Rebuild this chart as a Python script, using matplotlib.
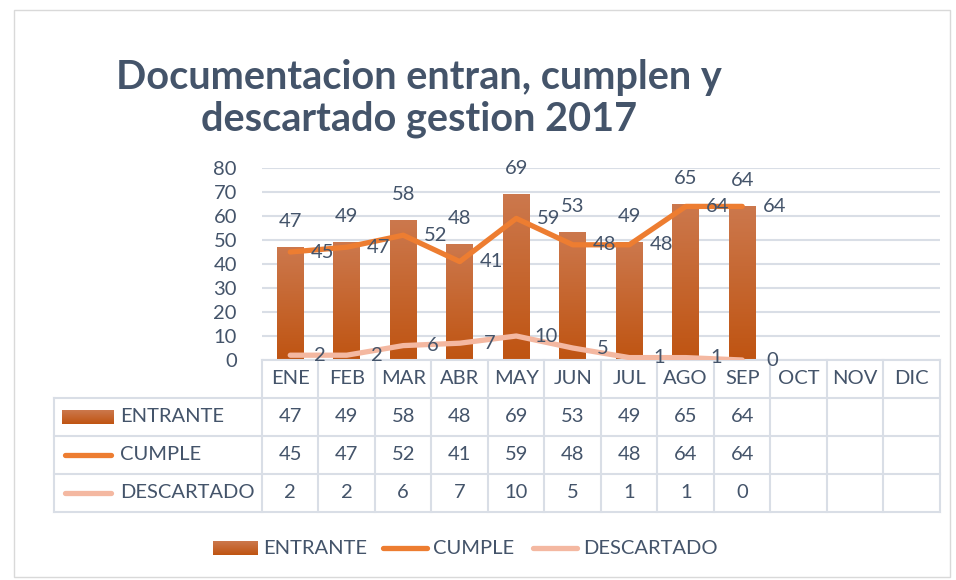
import numpy as np
import matplotlib.pyplot as plt
from matplotlib.patches import Rectangle

meses = ['ENE', 'FEB', 'MAR', 'ABR', 'MAY', 'JUN', 'JUL', 'AGO', 'SEP', 'OCT', 'NOV', 'DIC']
entrante = [47, 49, 58, 48, 69, 53, 49, 65, 64]
cumple = [45, 47, 52, 41, 59, 48, 48, 64, 64]
descartado = [2, 2, 6, 7, 10, 5, 1, 1, 0]
series = ['ENTRANTE', 'CUMPLE', 'DESCARTADO']
titulo = 'Documentacion entran, cumplen y\ndescartado gestion 2017'

W, H = 956, 580
texto = '#44546A'
borde = '#D9DEE6'
c_cumple = '#ED7D31'
c_desc = '#F4B8A1'
bar_top = np.array([0.80, 0.47, 0.30])
bar_bot = np.array([0.75, 0.33, 0.07])
fs = 14.5

plt.rcParams['font.family'] = ['Lato', 'DejaVu Sans']

fig = plt.figure(figsize=(W / 100, H / 100), dpi=100)

# layout (pixels)
x0, x1 = 262, 940
y0, y1 = 360, 168
colw = (x1 - x0) / len(meses)
rowh = 38
tab_left = 54

ov = fig.add_axes([0, 0, 1, 1])
ov.set_xlim(0, W)
ov.set_ylim(H, 0)
ov.axis('off')

ax = fig.add_axes([x0 / W, 1 - y0 / H, (x1 - x0) / W, (y0 - y1) / H])
ax.patch.set_visible(False)

grad = np.linspace(0, 1, 64)[:, None, None]
img = bar_top * (1 - grad) + bar_bot * grad

# bars with gradient
w = 0.47
for i, v in enumerate(entrante):
    ax.imshow(img, extent=[i - w / 2, i + w / 2, 0, v], aspect='auto', origin='upper', zorder=2)
    ax.annotate(str(v), (i, v), xytext=(0, 26), textcoords='offset pixels',
                ha='center', va='center', fontsize=fs, color=texto)

x = np.arange(len(cumple))
ax.plot(x, cumple, color=c_cumple, lw=3.8, solid_capstyle='round', solid_joinstyle='round', zorder=3)
ax.plot(x, descartado, color=c_desc, lw=3.8, solid_capstyle='round', solid_joinstyle='round', zorder=3)
for i in x:
    ax.annotate(str(cumple[i]), (i, cumple[i]), xytext=(32, 0), textcoords='offset pixels',
                ha='center', va='center', fontsize=fs, color=texto, zorder=4)
    ax.annotate(str(descartado[i]), (i, descartado[i]), xytext=(30, 0), textcoords='offset pixels',
                ha='center', va='center', fontsize=fs, color=texto, zorder=4)

ax.set_xlim(-0.5, len(meses) - 0.5)
ax.set_ylim(0, 80)
ax.set_yticks(range(0, 81, 10))
ax.set_xticks([])
ax.tick_params(axis='y', length=0, pad=18, labelsize=fs, labelcolor=texto)
for s in ['top', 'right', 'left']:
    ax.spines[s].set_visible(False)
ax.spines['bottom'].set_color(borde)
ax.spines['bottom'].set_linewidth(1.5)
ax.yaxis.grid(True, color=borde, lw=1.5)
ax.set_axisbelow(True)

# data table
ty = [y0 + rowh * k for k in range(5)]
for k in range(len(meses) + 1):
    ov.plot([x0 + k * colw] * 2, [y0, ty[4]], color=borde, lw=1.5)
ov.plot([tab_left] * 2, [ty[1], ty[4]], color=borde, lw=1.5)
for k in range(1, 5):
    ov.plot([tab_left, x1], [ty[k]] * 2, color=borde, lw=1.5)

for j, m in enumerate(meses):
    ov.text(x0 + (j + 0.5) * colw, ty[0] + rowh / 2, m, ha='center', va='center', fontsize=fs, color=texto)
for r, vals in enumerate([entrante, cumple, descartado]):
    yc = ty[r + 1] + rowh / 2
    for j, v in enumerate(vals):
        ov.text(x0 + (j + 0.5) * colw, yc, str(v), ha='center', va='center', fontsize=fs, color=texto)
    ov.text(120, yc, series[r], ha='left', va='center', fontsize=fs, color=texto)


def key(kind, xa, xb, yc):
    if kind == 0:
        ov.imshow(img, extent=[xa, xb, yc + 7, yc - 7], aspect='auto', origin='upper')
    else:
        ov.plot([xa + 3, xb - 3], [yc, yc], color=[c_cumple, c_desc][kind - 1], lw=3.8,
                solid_capstyle='round')


for r in range(3):
    key(r, 62, 114, ty[r + 1] + rowh / 2)

# bottom legend
ly = 548
for r, (xa, xb, xt) in enumerate([(213, 258, 263), (380, 430, 433), (530, 580, 583)]):
    key(r, xa, xb, ly)
    ov.text(xt, ly, series[r], ha='left', va='center', fontsize=fs, color=texto)

ov.set_xlim(0, W)
ov.set_ylim(H, 0)

# title
ov.text(419, 98, titulo, ha='center', va='center', fontsize=28.5, fontweight='bold',
        color=texto, linespacing=1.15)

ov.add_patch(Rectangle((14, 10), 936, 567, fill=False, edgecolor='#D9D9D9', lw=1))

fig.savefig('out.png', dpi=100)
